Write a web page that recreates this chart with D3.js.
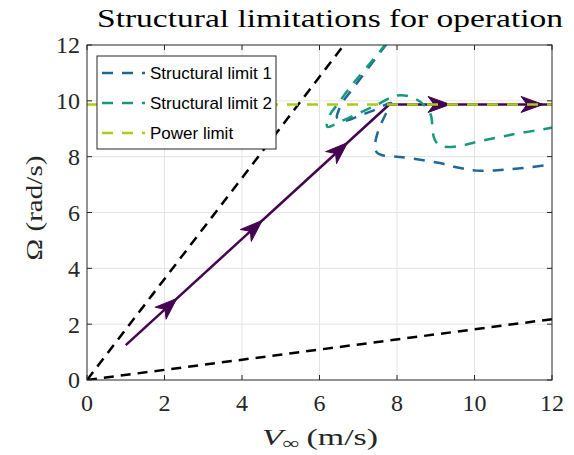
<!DOCTYPE html>
<html>
<head>
<meta charset="utf-8">
<script src="https://cdn.jsdelivr.net/npm/d3@7"></script>
<style>
  html, body { margin: 0; padding: 0; background: #fff; }
  svg { display: block; }
</style>
</head>
<body>
<svg id="chart" width="574" height="455"></svg>
<script>
// Operating trajectory of the rotor (wind speed V, rotor speed Omega)
const trajectory = [[1.0, 1.25], [7.8, 9.87], [12.0, 9.87]];
// Wind speeds where direction arrows sit along the trajectory
const arrowSpeeds = [2.32, 4.52, 6.72, 9.37, 11.77];

// Tip-speed-ratio bounds through the origin
const tsrUpper = [[0, 0], [6.63, 12]];
const tsrLower = [[0, 0], [12, 2.18]];

// Structural limit contours
const structural1 = [
  [7.74, 12.05], [7.26, 11.18], [6.85, 10.42], [6.6, 9.96], [6.48, 9.6], [6.45, 9.4],
  [6.55, 9.3], [6.72, 9.3], [7.0, 9.45], [7.4, 9.66], [7.85, 9.92],
  [7.7, 9.5], [7.55, 9.05], [7.46, 8.65], [7.43, 8.35], [7.48, 8.15], [7.62, 8.05],
  [8.0, 8.0], [8.26, 7.96], [9.1, 7.77], [9.6, 7.6], [10.06, 7.5], [10.66, 7.52],
  [11.3, 7.6], [12.0, 7.72]
];
const structural2 = [
  [7.72, 12.05], [7.22, 11.2], [6.8, 10.5], [6.45, 9.85], [6.27, 9.5], [6.2, 9.07],
  [6.53, 9.25], [7.0, 9.55], [7.48, 9.86], [7.9, 10.15], [8.1, 10.2], [8.4, 10.12],
  [8.7, 9.85], [8.87, 9.5], [8.92, 9.0], [8.95, 8.7], [9.05, 8.45], [9.2, 8.36],
  [9.6, 8.38], [10.06, 8.53], [11.0, 8.8], [11.95, 9.03], [12.0, 9.05]
];
// Rated rotor speed
const powerLimit = [[0, 9.87], [12, 9.87]];

const xTicks = [0, 2, 4, 6, 8, 10, 12];
const yTicks = [0, 2, 4, 6, 8, 10, 12];
const legendLabels = ["Structural limit 1", "Structural limit 2", "Power limit"];
const legendColors = ["#1d6896", "#16997c", "#acca18"];

const svg = d3.select("#chart");
const plotLeft = 87, plotRight = 552, plotTop = 45, plotBottom = 380;

const x = d3.scaleLinear().domain([0, 12]).range([plotLeft, plotRight]);
const y = d3.scaleLinear().domain([0, 12]).range([plotBottom, plotTop]);

const serif = "'Liberation Serif', 'Times New Roman', serif";
const sans = "'Liberation Sans', Arial, Helvetica, sans-serif";
const axisColor = "#262626";

svg.append("defs").append("clipPath").attr("id", "plotClip")
  .append("rect").attr("x", plotLeft).attr("y", plotTop)
  .attr("width", plotRight - plotLeft).attr("height", plotBottom - plotTop);

// grid
const grid = svg.append("g").attr("stroke", "#e3e3e3").attr("stroke-width", 1);
xTicks.slice(1, -1).forEach(t => grid.append("line")
  .attr("x1", x(t)).attr("x2", x(t)).attr("y1", plotTop).attr("y2", plotBottom));
yTicks.slice(1, -1).forEach(t => grid.append("line")
  .attr("y1", y(t)).attr("y2", y(t)).attr("x1", plotLeft).attr("x2", plotRight));

const line = d3.line().x(d => x(d[0])).y(d => y(d[1]));
const plot = svg.append("g").attr("clip-path", "url(#plotClip)");

// trajectory
plot.append("path").attr("d", line(trajectory))
  .attr("fill", "none").attr("stroke", "#44044f").attr("stroke-width", 2.5)
  .attr("stroke-linejoin", "round");

// direction arrows along the trajectory
function trajectoryAt(v) {
  for (let i = 0; i < trajectory.length - 1; i++) {
    const a = trajectory[i], b = trajectory[i + 1];
    if (v >= a[0] && v <= b[0]) {
      const t = (v - a[0]) / (b[0] - a[0]);
      return { om: a[1] + t * (b[1] - a[1]), ang: Math.atan2(y(b[1]) - y(a[1]), x(b[0]) - x(a[0])) };
    }
  }
  return null;
}
arrowSpeeds.forEach(v => {
  const p = trajectoryAt(v);
  const px = x(v), py = y(p.om);
  const deg = p.ang * 180 / Math.PI;
  plot.append("path")
    .attr("d", "M0,0 L-22,-8 L-16,0 L-22,8 Z")
    .attr("transform", `translate(${px},${py}) rotate(${deg})`)
    .attr("fill", "#44044f").attr("stroke", "#44044f").attr("stroke-width", 1)
    .attr("stroke-linejoin", "round");
});

// tip-speed-ratio bounds
[tsrUpper, tsrLower].forEach(d => plot.append("path").attr("d", line(d))
  .attr("fill", "none").attr("stroke", "#000").attr("stroke-width", 2.5)
  .attr("stroke-dasharray", "10,7"));

// limits
const limitLine = d3.line().x(d => x(d[0])).y(d => y(d[1])).curve(d3.curveCatmullRom.alpha(0.5));
[structural1, structural2].forEach((d, i) => plot.append("path").attr("d", limitLine(d))
  .attr("fill", "none").attr("stroke", legendColors[i]).attr("stroke-width", 2.5)
  .attr("stroke-dasharray", "11,9"));
plot.append("path").attr("d", line(powerLimit))
  .attr("fill", "none").attr("stroke", legendColors[2]).attr("stroke-width", 2.5)
  .attr("stroke-dasharray", "11,9");

// axes box and ticks
const ax = svg.append("g").attr("stroke", axisColor).attr("stroke-width", 1).attr("fill", "none");
ax.append("rect").attr("x", plotLeft).attr("y", plotTop)
  .attr("width", plotRight - plotLeft).attr("height", plotBottom - plotTop);
const tl = 5;
xTicks.forEach(t => {
  ax.append("line").attr("x1", x(t)).attr("x2", x(t)).attr("y1", plotBottom).attr("y2", plotBottom - tl);
  ax.append("line").attr("x1", x(t)).attr("x2", x(t)).attr("y1", plotTop).attr("y2", plotTop + tl);
});
yTicks.forEach(t => {
  ax.append("line").attr("y1", y(t)).attr("y2", y(t)).attr("x1", plotLeft).attr("x2", plotLeft + tl);
  ax.append("line").attr("y1", y(t)).attr("y2", y(t)).attr("x1", plotRight).attr("x2", plotRight - tl);
});

// tick labels
const tickFont = 24;
svg.append("g").selectAll("text").data(xTicks).join("text")
  .attr("x", d => x(d)).attr("y", 411).attr("text-anchor", "middle")
  .attr("font-family", serif).attr("font-size", tickFont).attr("fill", axisColor)
  .text(d => d);
svg.append("g").selectAll("text").data(yTicks).join("text")
  .attr("x", 80).attr("y", d => y(d)).attr("dy", "0.35em").attr("text-anchor", "end")
  .attr("font-family", serif).attr("font-size", tickFont).attr("fill", axisColor)
  .text(d => d);

// title
svg.append("text").attr("x", 330).attr("y", 27).attr("text-anchor", "middle")
  .attr("font-family", serif).attr("font-size", 25).attr("fill", "#000")
  .attr("textLength", 466).attr("lengthAdjust", "spacingAndGlyphs")
  .text("Structural limitations for operation");

// x label
const xl = svg.append("text").attr("x", 320).attr("y", 445).attr("text-anchor", "middle")
  .attr("font-family", serif).attr("font-size", 24).attr("fill", axisColor)
  .attr("textLength", 116).attr("lengthAdjust", "spacingAndGlyphs");
xl.append("tspan").attr("font-style", "italic").text("V");
xl.append("tspan").attr("font-size", 17).attr("dy", 4).text("\u221E");
xl.append("tspan").attr("dy", -4).text("\u2009(m/s)");

// y label
svg.append("text").attr("transform", "translate(42,208) rotate(-90)")
  .attr("text-anchor", "middle").attr("font-family", serif).attr("font-size", 24)
  .attr("fill", axisColor).attr("textLength", 105).attr("lengthAdjust", "spacingAndGlyphs")
  .text("\u03A9 (rad/s)");

// legend
const lg = svg.append("g");
lg.append("rect").attr("x", 97).attr("y", 56).attr("width", 179).attr("height", 93)
  .attr("fill", "#fff").attr("stroke", axisColor).attr("stroke-width", 1);
legendLabels.forEach((lab, i) => {
  const ly = 73 + i * 30;
  lg.append("line").attr("x1", 102).attr("x2", 145).attr("y1", ly).attr("y2", ly)
    .attr("stroke", legendColors[i]).attr("stroke-width", 2.5).attr("stroke-dasharray", "11,9");
  lg.append("text").attr("x", 150).attr("y", ly).attr("dy", "0.36em")
    .attr("font-family", sans).attr("font-size", 17).attr("fill", "#000").text(lab);
});
</script>
</body>
</html>
